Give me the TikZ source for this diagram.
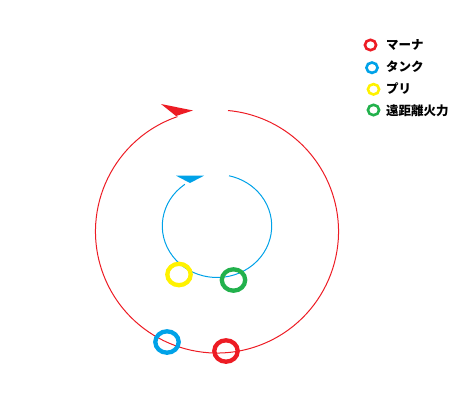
\documentclass[tikz,border=0pt]{standalone}
\usepackage{fontspec}
\usetikzlibrary{calc}
\newfontfamily\jpfont{Noto Sans CJK JP}
\definecolor{pred}{HTML}{ED1C24}
\definecolor{pblue}{HTML}{00A2E8}
\definecolor{pyellow}{HTML}{FFF200}
\definecolor{pgreen}{HTML}{22B14C}
\tikzset{
  marker/.style={line width=4.3pt, x radius=11.7pt, y radius=10.7pt},
  legmark/.style={line width=2.6pt, x radius=5.6pt, y radius=5.2pt},
  legtext/.style={anchor=west, inner sep=0pt, font=\jpfont\bfseries\fontsize{12.5}{13}\selectfont},
}
\begin{document}
\begin{tikzpicture}[x=1pt,y=1pt]
\useasboundingbox (0,0) rectangle (473,-418);
% centres
\coordinate (rc) at (217,-231.5);
\coordinate (bc) at (217,-226);
% red orbit
\draw[pred, line width=1pt] ($(rc)+(109:121.5)$) arc[start angle=109, end angle=444.8, radius=121.5];
\fill[pred] (161,-104) -- (193,-110.5) -- (176,-116) -- cycle;
% blue orbit
\draw[pblue, line width=1pt] ($(bc)+({54.7*cos(126)},{51.5*sin(126)})$) arc[start angle=126, end angle=437.3, x radius=54.7, y radius=51.5];
\fill[pblue] (176,-175.7) -- (204,-175.7) -- (190,-183) -- cycle;
% markers
\coordinate (my) at (179,-274.5);
\coordinate (mg) at (233.5,-280);
\coordinate (mb) at (167,-342);
\coordinate (mr) at (226,-351);
\draw[pyellow, marker] (my) ellipse[];
\draw[pgreen, marker] (mg) ellipse[];
\draw[pblue, marker] (mb) ellipse[];
\draw[pred, marker] (mr) ellipse[];
% legend
\coordinate (l1) at (370.5,-45);
\coordinate (l2) at (372,-67.7);
\coordinate (l3) at (373.5,-89.3);
\coordinate (l4) at (373.5,-110);
\draw[pred, legmark] (l1) ellipse[];
\draw[pblue, legmark] (l2) ellipse[];
\draw[pyellow, legmark] (l3) ellipse[];
\draw[pgreen, legmark] (l4) ellipse[];
\node[legtext] (t1) at (386,-45) {マーナ};
\node[legtext] (t2) at (386,-67) {タンク};
\node[legtext] (t3) at (386,-89) {プリ};
\node[legtext] (t4) at (386,-110.5) {遠距離火力};
\end{tikzpicture}
\end{document}
